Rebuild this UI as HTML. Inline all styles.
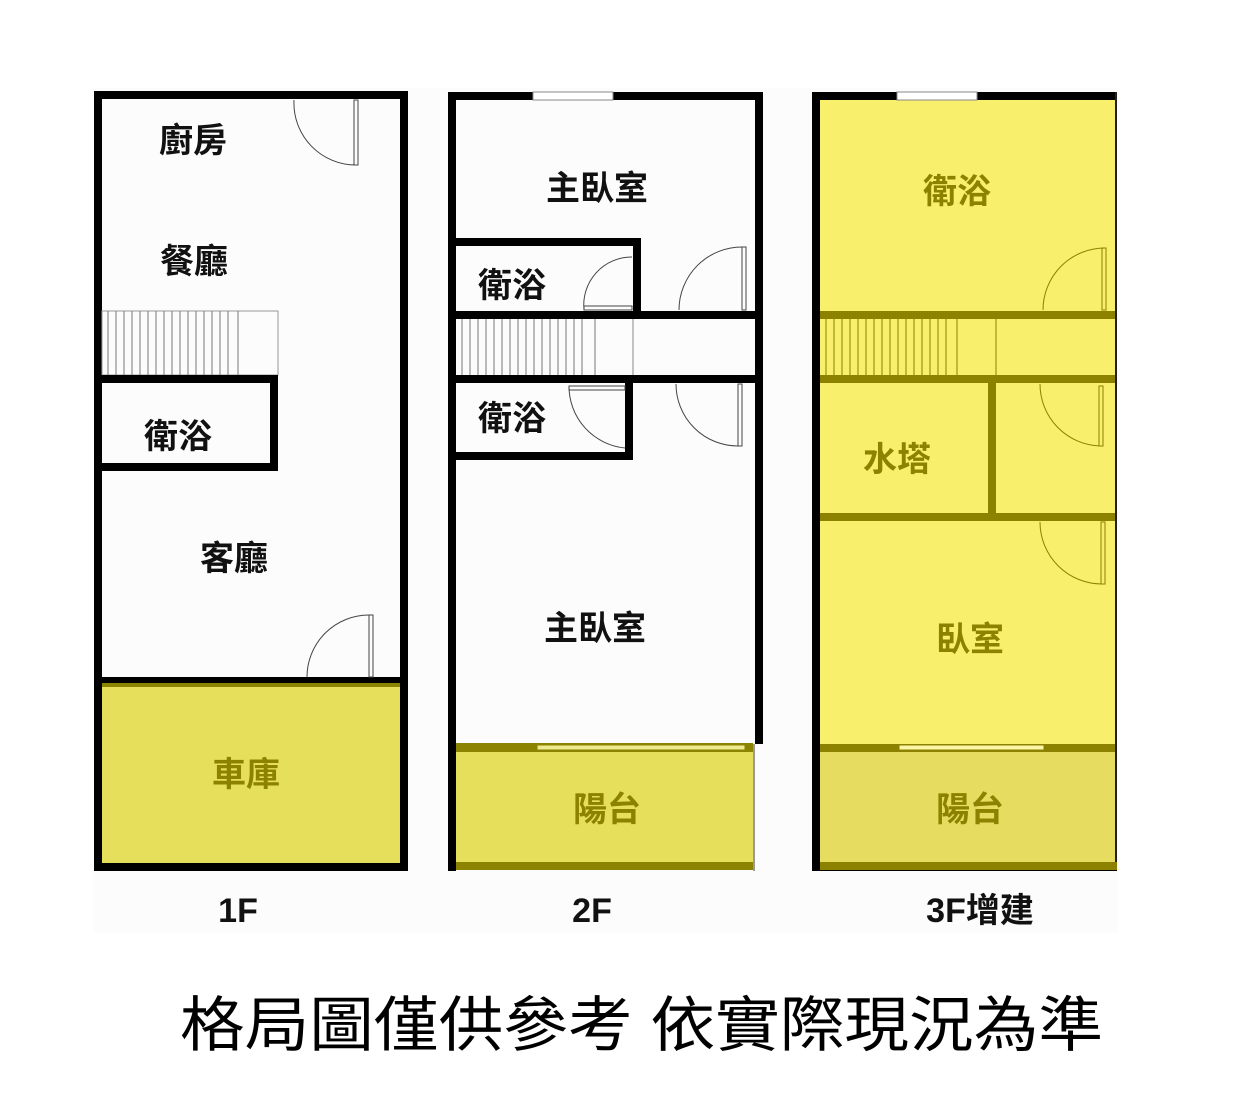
<!DOCTYPE html>
<html><head><meta charset="utf-8"><style>
html,body{margin:0;padding:0;background:#fff;}
svg{display:block;}
text{font-family:"Liberation Sans","Noto Sans CJK TC",sans-serif;}
</style></head><body>
<svg width="1238" height="1119" viewBox="0 0 1238 1119" xmlns="http://www.w3.org/2000/svg">
<rect width="1238" height="1119" fill="#fff"/>
<rect x="94" y="88" width="1024" height="845" fill="#fcfcfc"/>

<!-- ===== 1F ===== -->
<rect x="102" y="683" width="298" height="180" fill="#e6df5c"/>
<rect x="102" y="683" width="298" height="4" fill="#8c8400"/>
<rect x="94" y="91" width="314" height="8" fill="#000"/>
<rect x="94" y="91" width="8" height="780" fill="#000"/>
<rect x="400" y="91" width="8" height="780" fill="#000"/>
<rect x="94" y="863" width="314" height="8" fill="#000"/>
<rect x="94" y="677" width="314" height="6" fill="#000"/>
<rect x="102" y="311" width="176" height="64" fill="none" stroke="#999" stroke-width="1"/>
<g stroke="#777" stroke-width="1">
<line x1="108" y1="311" x2="108" y2="375"/><line x1="116" y1="311" x2="116" y2="375"/><line x1="124" y1="311" x2="124" y2="375"/><line x1="132" y1="311" x2="132" y2="375"/><line x1="140" y1="311" x2="140" y2="375"/><line x1="148" y1="311" x2="148" y2="375"/><line x1="156" y1="311" x2="156" y2="375"/><line x1="164" y1="311" x2="164" y2="375"/><line x1="172" y1="311" x2="172" y2="375"/><line x1="180" y1="311" x2="180" y2="375"/><line x1="188" y1="311" x2="188" y2="375"/><line x1="196" y1="311" x2="196" y2="375"/><line x1="204" y1="311" x2="204" y2="375"/><line x1="212" y1="311" x2="212" y2="375"/><line x1="220" y1="311" x2="220" y2="375"/><line x1="228" y1="311" x2="228" y2="375"/><line x1="238" y1="311" x2="238" y2="375"/>
</g>
<rect x="98" y="375" width="180" height="8" fill="#000"/>
<rect x="270" y="375" width="8" height="96" fill="#000"/>
<rect x="98" y="463" width="180" height="8" fill="#000"/>
<g fill="none" stroke="#444" stroke-width="1">
<path d="M294 100 A62 62 0 0 0 356 165"/>
<rect x="354" y="100" width="4" height="65"/>
<path d="M307 677 A62 62 0 0 1 369 615"/>
<rect x="369" y="615" width="4" height="62"/>
</g>

<!-- ===== 2F ===== -->
<rect x="456" y="748" width="297" height="115" fill="#e6df5c"/>
<rect x="456" y="743" width="297" height="9" fill="#8c8400"/>
<rect x="456" y="862" width="297" height="8" fill="#8c8400"/>
<rect x="448" y="92" width="315" height="8" fill="#000"/>
<rect x="533" y="92" width="80" height="8" fill="#fff" stroke="#888" stroke-width="1"/>
<rect x="448" y="92" width="8" height="779" fill="#000"/>
<rect x="755" y="92" width="8" height="652" fill="#000"/>
<rect x="753" y="744" width="2" height="127" fill="#999"/>
<rect x="537" y="745" width="208" height="5" fill="#eeea90" stroke="#8c8400" stroke-width="1"/>
<rect x="456" y="238" width="185" height="8" fill="#000"/>
<rect x="633" y="238" width="8" height="80" fill="#000"/>
<rect x="456" y="311" width="307" height="8" fill="#000"/>
<rect x="456" y="375" width="307" height="8" fill="#000"/>
<rect x="625" y="375" width="8" height="85" fill="#000"/>
<rect x="456" y="452" width="177" height="8" fill="#000"/>
<line x1="633" y1="319" x2="633" y2="375" stroke="#888"/>
<g stroke="#777" stroke-width="1">
<line x1="462" y1="319" x2="462" y2="375"/><line x1="470" y1="319" x2="470" y2="375"/><line x1="478" y1="319" x2="478" y2="375"/><line x1="486" y1="319" x2="486" y2="375"/><line x1="494" y1="319" x2="494" y2="375"/><line x1="502" y1="319" x2="502" y2="375"/><line x1="510" y1="319" x2="510" y2="375"/><line x1="518" y1="319" x2="518" y2="375"/><line x1="526" y1="319" x2="526" y2="375"/><line x1="534" y1="319" x2="534" y2="375"/><line x1="542" y1="319" x2="542" y2="375"/><line x1="550" y1="319" x2="550" y2="375"/><line x1="558" y1="319" x2="558" y2="375"/><line x1="566" y1="319" x2="566" y2="375"/><line x1="574" y1="319" x2="574" y2="375"/><line x1="582" y1="319" x2="582" y2="375"/><line x1="595" y1="319" x2="595" y2="375"/>
</g>
<g fill="none" stroke="#444" stroke-width="1">
<path d="M584 310 A48 48 0 0 1 632 257"/>
<rect x="584" y="306" width="48" height="4"/>
<path d="M679 310 A63 63 0 0 1 742 247"/>
<rect x="742" y="247" width="4" height="63"/>
<path d="M569 386 A62 62 0 0 0 625 448"/>
<rect x="569" y="386" width="56" height="4"/>
<path d="M676 384 A62 62 0 0 0 738 446"/>
<rect x="738" y="384" width="4" height="62"/>
</g>

<!-- ===== 3F ===== -->
<rect x="820" y="99" width="297" height="764" fill="#f8ef6c"/>
<rect x="820" y="752" width="297" height="111" fill="#e6dc60"/>
<rect x="812" y="92" width="305" height="8" fill="#000"/>
<rect x="897" y="92" width="80" height="8" fill="#fff" stroke="#888" stroke-width="1"/>
<rect x="812" y="92" width="8" height="779" fill="#000"/>
<rect x="1115" y="92" width="2" height="779" fill="#222"/>
<rect x="812" y="869" width="305" height="2" fill="#000"/>
<rect x="820" y="862" width="297" height="8" fill="#8c8200"/>
<g fill="#8c8200">
<rect x="820" y="311" width="295" height="8"/>
<rect x="820" y="375" width="295" height="8"/>
<rect x="988" y="383" width="8" height="134"/>
<rect x="820" y="513" width="295" height="8"/>
<rect x="820" y="744" width="295" height="8"/>
</g>
<rect x="899" y="745" width="145" height="5" fill="#fbf6a8" stroke="#8c8200" stroke-width="1"/>
<line x1="996" y1="319" x2="996" y2="375" stroke="#8c8200"/>
<g stroke="#8c8200" stroke-width="1">
<line x1="826" y1="319" x2="826" y2="375"/><line x1="834" y1="319" x2="834" y2="375"/><line x1="842" y1="319" x2="842" y2="375"/><line x1="850" y1="319" x2="850" y2="375"/><line x1="858" y1="319" x2="858" y2="375"/><line x1="866" y1="319" x2="866" y2="375"/><line x1="874" y1="319" x2="874" y2="375"/><line x1="882" y1="319" x2="882" y2="375"/><line x1="890" y1="319" x2="890" y2="375"/><line x1="898" y1="319" x2="898" y2="375"/><line x1="906" y1="319" x2="906" y2="375"/><line x1="914" y1="319" x2="914" y2="375"/><line x1="922" y1="319" x2="922" y2="375"/><line x1="930" y1="319" x2="930" y2="375"/><line x1="938" y1="319" x2="938" y2="375"/><line x1="946" y1="319" x2="946" y2="375"/><line x1="957" y1="319" x2="957" y2="375"/>
</g>
<g fill="none" stroke="#8c8200" stroke-width="1">
<path d="M1043 310 A62 62 0 0 1 1105 248"/>
<rect x="1102" y="248" width="4" height="62"/>
<path d="M1040 384 A62 62 0 0 0 1100 446"/>
<rect x="1099" y="386" width="4" height="60"/>
<path d="M1040 522 A62 62 0 0 0 1102 584"/>
<rect x="1101" y="522" width="4" height="62"/>
</g>

<!-- labels -->
<g font-size="34" font-weight="bold" text-anchor="middle" fill="#111">
<text x="193" y="152">廚房</text>
<text x="194" y="273">餐廳</text>
<text x="178" y="448">衛浴</text>
<text x="234" y="570">客廳</text>
<text x="597" y="200">主臥室</text>
<text x="512" y="297">衛浴</text>
<text x="512" y="430">衛浴</text>
<text x="595" y="640">主臥室</text>
</g>
<g font-size="34" font-weight="bold" text-anchor="middle" fill="#8c8200">
<text x="246" y="786">車庫</text>
<text x="607" y="821">陽台</text>
<text x="957" y="203">衛浴</text>
<text x="897" y="471">水塔</text>
<text x="970" y="651">臥室</text>
<text x="970" y="821">陽台</text>
</g>
<g font-size="34" font-weight="bold" text-anchor="middle" fill="#111">
<text x="238" y="922">1F</text>
<text x="592" y="922">2F</text>
<text x="980" y="922">3F增建</text>
</g>
<text x="180" y="1046" font-size="60" fill="#000" textLength="923" lengthAdjust="spacingAndGlyphs">格局圖僅供參考  依實際現況為準</text>
</svg>
</body></html>
